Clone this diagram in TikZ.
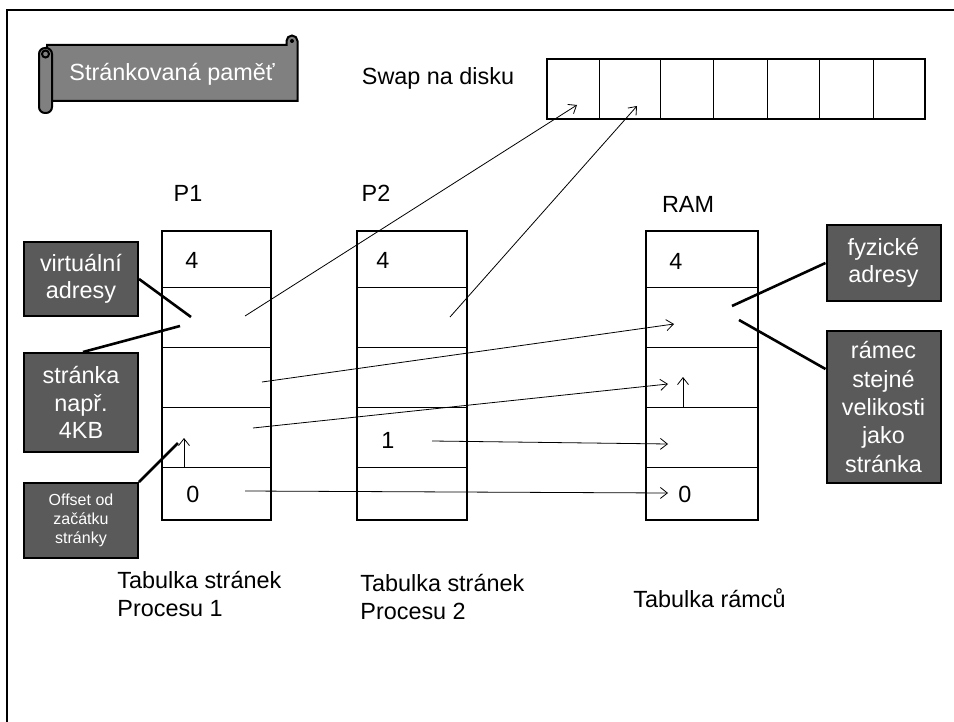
\documentclass[tikz,border=0pt]{standalone}
\usepackage{fontspec}
\setmainfont{Liberation Sans}
\usetikzlibrary{arrows.meta}
\definecolor{scrollgray}{RGB}{128,128,128}
\definecolor{notegray}{RGB}{90,90,90}

\begin{document}
\begin{tikzpicture}[
    x=0.5pt, y=-0.5pt,
    font=\fontsize{11.7}{13.6}\selectfont,
    txt/.style={inner sep=0pt, align=left},
    note/.style={rectangle, draw, line width=1pt, fill=notegray, text=white, align=center, minimum width=57pt, inner sep=1pt},
    banner/.style={draw, line width=1pt, fill=scrollgray},
    frame/.style={draw, line width=1pt},
    row/.style={draw, line width=0.5pt},
    line/.style={draw, line width=0.4pt, -{Straight Barb[length=3.5pt, width=5.5pt]}},
    pointer/.style={draw, line width=1.3pt}
]
    \useasboundingbox (0,0) rectangle (954,722);
    % Page frame
    \draw[line width=1pt] (7,722) -- (7,10) -- (954,10);

    % Scroll banner
    \draw[banner] (47,45) -- (286.5,45) -- (286.5,41) arc[start angle=180, end angle=360, radius=5.5] -- (297.5,101) -- (47,101) -- cycle;
    \fill (292,41) circle (2);
    \draw[banner, rounded corners=3pt] (39,48) rectangle (52,113);
    \draw[line width=1pt, fill=scrollgray] (45.5,54) circle (3.5);
    \node[txt, text=white] (title) at (172,74) {Stránkovaná paměť};

    % Swap
    \node[txt] (swaplbl) at (438,78) {Swap na disku};
    \draw[frame] (547,59) rectangle (925,119);
    \foreach \xx in {599,660,713,767,819,873}
        \draw[row] (\xx,59) -- (\xx,119);

    % Tables
    \foreach \xl/\xr in {162/271, 357/467, 646/758} {
        \draw[frame] (\xl,231) rectangle (\xr,520);
        \foreach \yy in {287,347,407,467}
            \draw[row] (\xl,\yy) -- (\xr,\yy);
    }
    \node[txt] (p1lbl) at (188,193) {P1};
    \node[txt] (p2lbl) at (376,193) {P2};
    \node[txt] (ramlbl) at (688,204) {RAM};

    % Cell numbers
    \node[txt] (p1top) at (192,260) {4};
    \node[txt] (p1bot) at (193,494) {0};
    \node[txt] (p2top) at (383,260) {4};
    \node[txt] (p2one) at (388,440) {1};
    \node[txt] (ramtop) at (676,261) {4};
    \node[txt] (rambot) at (685,494) {0};

    % Captions
    \node[txt, anchor=west] (cap1) at (117,594) {Tabulka stránek\\Procesu 1};
    \node[txt, anchor=west] (cap2) at (360,597) {Tabulka stránek\\Procesu 2};
    \node[txt, anchor=west] (cap3) at (633,598) {Tabulka rámců};

    % Notes
    \node[note, minimum height=37pt] (virt) at (81,279) {virtuální\\adresy};
    \node[note, minimum height=49.5pt] (page) at (81,402.5) {stránka\\např.\\4KB};
    \node[note, minimum height=37.5pt, font=\fontsize{8}{9.6}\selectfont] (offs) at (81,520.5) {Offset od\\začátku\\stránky};
    \node[note, minimum height=38pt] (phys) at (883.5,263) {fyzické\\adresy};
    \node[note, minimum height=76pt, font=\fontsize{11.7}{14.2}\selectfont] (frm) at (883.5,407) {rámec\\stejné\\velikosti\\jako\\stránka};

    % Arrow end points
    \coordinate (p1s2) at (245,316);
    \coordinate (p1s3) at (262,382);
    \coordinate (p1s4) at (253,428);
    \coordinate (p1s5) at (245,491);
    \coordinate (p2s2) at (450,317);
    \coordinate (p2s4) at (432,441);
    \coordinate (swap1) at (577,105);
    \coordinate (swap2) at (637,106);
    \coordinate (ram2) at (674,324);
    \coordinate (ram3) at (668,384);
    \coordinate (ram4) at (668,444);
    \coordinate (ram5) at (668,493);
    \coordinate (p1o) at (184,467);
    \coordinate (p1oh) at (184,438);
    \coordinate (ramo) at (683,407);
    \coordinate (ramoh) at (683,377);
    \coordinate (virtp) at (191,317);
    \coordinate (pagep) at (180,326);
    \coordinate (offsp) at (178,443);
    \coordinate (physp) at (732,306);
    \coordinate (frmp) at (739,320);

    % Paths
    \path [line] (p1s2) -- (swap1);
    \path [line] (p2s2) -- (swap2);
    \path [line] (p1s3) -- (ram2);
    \path [line] (p1s4) -- (ram3);
    \path [line] (p2s4) -- (ram4);
    \path [line] (p1s5) -- (ram5);
    \path [line] (p1o) -- (p1oh);
    \path [line] (ramo) -- (ramoh);
    \path [pointer] (virt.east) -- (virtp);
    \path [pointer] ([xshift=1pt]page.north) -- (pagep);
    \path [pointer] (offs.north east) -- (offsp);
    \path [pointer] (phys.west) -- (physp);
    \path [pointer] ([shift={(0,39)}]frm.north west) -- (frmp);
\end{tikzpicture}
\end{document}
